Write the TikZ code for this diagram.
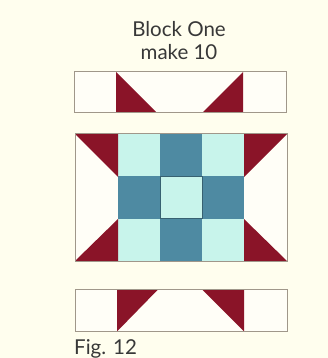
\documentclass[tikz,border=0pt]{standalone}
\usepackage{fontspec}
\setmainfont{Lato}
\definecolor{bg}{HTML}{FFFEEE}
\definecolor{qred}{HTML}{8A1428}
\definecolor{qdark}{HTML}{4E8AA2}
\definecolor{qlight}{HTML}{C8F4EB}
\definecolor{qline}{HTML}{A0978A}
\begin{document}
\begin{tikzpicture}[x=1pt,y=-1pt,
  redtri/.style={fill=qred,draw=none},
  frame/.style={draw=qline,line width=1pt},
  lt/.style={fill=qlight,draw=none},
  dk/.style={fill=qdark,draw=none},
  lbl/.style={inner sep=0pt,font=\fontsize{20.5}{22}\selectfont,text=black!78}]
\fill[bg] (0,0) rectangle (328,358);
\useasboundingbox (0,0) rectangle (328,358);
% title
\node[lbl,anchor=base] (t1) at (179,36.5) {Block One};
\node[lbl,anchor=base] (t2) at (179,60) {make 10};
% top strip
\fill[white!50!bg] (74,72) rectangle (286,113);
\fill[redtri] (116,72) -- (116,113) -- (157,113) -- cycle;
\fill[redtri] (243,72) -- (243,113) -- (202,113) -- cycle;
\draw[frame] (74,72) rectangle (286,113);
% middle block
\fill[white!50!bg] (75,134) rectangle (287,261);
\foreach \r in {0,1,2}{
  \foreach \c in {0,1,2}{
    \pgfmathparse{int(mod(\r+\c,2))}
    \ifnum\pgfmathresult=0
      \fill[lt] ({118+42*\c},{134+42.3*\r}) rectangle ({118+42*(\c+1)},{134+42.3*(\r+1)});
    \else
      \fill[dk] ({118+42*\c},{134+42.3*\r}) rectangle ({118+42*(\c+1)},{134+42.3*(\r+1)});
    \fi
  }
}
\draw[qdark!70!black,line width=0.6pt] (160,176.3) rectangle (202,218.6);
\fill[redtri] (75,134) -- (118,134) -- (118,177) -- cycle;
\fill[redtri] (287,134) -- (244,134) -- (244,177) -- cycle;
\fill[redtri] (75,261) -- (118,261) -- (118,219) -- cycle;
\fill[redtri] (287,261) -- (244,261) -- (244,219) -- cycle;
\draw[frame] (75,134) rectangle (287,261);
% bottom strip
\fill[white!50!bg] (75,289.5) rectangle (287,331.5);
\fill[redtri] (117,289.5) -- (158,289.5) -- (117,331.5) -- cycle;
\fill[redtri] (202,289.5) -- (244,289.5) -- (244,331.5) -- cycle;
\draw[frame] (75,289.5) rectangle (287,331.5);
% caption
\node[lbl,anchor=base west] (fig) at (74,354) {Fig. 12};
\end{tikzpicture}
\end{document}
